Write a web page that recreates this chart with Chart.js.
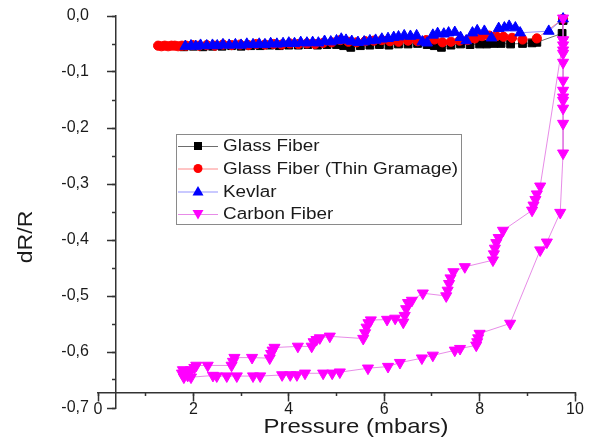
<!DOCTYPE html>
<html><head><meta charset="utf-8">
<script src="https://cdn.jsdelivr.net/npm/chart.js"></script>
<style>html,body{margin:0;padding:0;background:#fff}canvas{display:block}</style>
</head><body>
<canvas id="c" width="594" height="441"></canvas>
<script>
// ---- data ----
const seriesNames = ["Glass Fiber", "Glass Fiber (Thin Gramage)", "Kevlar", "Carbon Fiber"];

const glassX = [1.8, 2.0, 2.2, 2.4, 2.6, 2.8, 3.0, 3.2, 3.4, 3.6, 3.8, 4.0, 4.2, 4.4, 4.6, 4.8, 5.0, 5.15, 5.3, 5.5, 5.7, 5.9, 6.1, 6.3, 6.5, 6.7, 6.9, 7.05, 7.2, 7.4, 7.6, 7.8, 8.0, 8.15, 8.3, 8.45, 8.65, 8.9, 9.1, 9.2, 9.73, 9.75];
const glassY = [-0.055, -0.054, -0.055, -0.054, -0.054, -0.053, -0.054, -0.053, -0.053, -0.052, -0.053, -0.052, -0.052, -0.051, -0.052, -0.051, -0.051, -0.053, -0.056, -0.053, -0.052, -0.051, -0.052, -0.050, -0.050, -0.049, -0.051, -0.053, -0.056, -0.052, -0.050, -0.051, -0.050, -0.050, -0.049, -0.049, -0.050, -0.049, -0.048, -0.047, -0.031, -0.008];

const thinX = [1.26, 1.33, 1.40, 1.47, 1.54, 1.61, 1.68, 1.76, 1.85, 1.98, 2.12, 2.28, 2.45, 2.62, 2.8, 2.98, 3.15, 3.32, 3.5, 3.68, 3.85, 4.02, 4.2, 4.38, 4.55, 4.72, 4.9, 5.08, 5.25, 5.42, 5.6, 5.78, 5.95, 6.12, 6.3, 6.5, 6.7, 6.88, 7.05, 7.22, 7.4, 7.58, 7.75, 7.9, 8.05, 8.2, 8.35, 8.5, 8.68, 8.9, 9.2, 9.75];
const thinY = [-0.053, -0.054, -0.053, -0.054, -0.053, -0.053, -0.054, -0.053, -0.053, -0.052, -0.053, -0.052, -0.053, -0.051, -0.052, -0.051, -0.052, -0.050, -0.051, -0.050, -0.051, -0.049, -0.050, -0.049, -0.050, -0.048, -0.047, -0.043, -0.046, -0.047, -0.045, -0.044, -0.043, -0.045, -0.046, -0.044, -0.045, -0.043, -0.042, -0.047, -0.046, -0.044, -0.043, -0.040, -0.036, -0.035, -0.036, -0.037, -0.039, -0.042, -0.040, -0.005];

const kevlarX = [1.83, 1.95, 2.05, 2.15, 2.28, 2.4, 2.5, 2.62, 2.75, 2.88, 3.0, 3.12, 3.25, 3.38, 3.5, 3.62, 3.75, 3.88, 4.0, 4.12, 4.25, 4.38, 4.5, 4.62, 4.75, 4.88, 5.0, 5.1, 5.2, 5.32, 5.45, 5.58, 5.7, 5.82, 5.95, 6.08, 6.2, 6.3, 6.42, 6.55, 6.68, 6.8, 6.9, 7.02, 7.12, 7.25, 7.35, 7.48, 7.6, 7.72, 7.85, 7.95, 8.1, 8.25, 8.4, 8.52, 8.62, 8.75, 8.85, 9.45, 9.75];
const kevlarY = [-0.054, -0.053, -0.054, -0.052, -0.053, -0.052, -0.053, -0.051, -0.052, -0.051, -0.052, -0.050, -0.051, -0.050, -0.051, -0.049, -0.050, -0.049, -0.048, -0.049, -0.047, -0.048, -0.047, -0.048, -0.045, -0.046, -0.044, -0.041, -0.043, -0.045, -0.047, -0.046, -0.044, -0.043, -0.041, -0.040, -0.038, -0.037, -0.035, -0.036, -0.035, -0.046, -0.048, -0.034, -0.031, -0.032, -0.030, -0.029, -0.038, -0.044, -0.030, -0.026, -0.027, -0.039, -0.022, -0.021, -0.018, -0.021, -0.030, -0.027, -0.005];

const carbonX = [9.75, 9.75, 9.75, 9.75, 9.75, 9.75, 9.75, 9.75, 9.75, 9.75, 9.75, 9.75, 9.75,
  9.69, 9.41, 9.27, 8.64, 8.00, 7.97, 7.95, 7.93, 7.59, 7.48, 7.02, 6.79, 6.33, 6.08, 5.66, 5.07, 4.91, 4.72,
  4.34, 4.17, 4.03, 3.86, 3.40, 3.25, 2.91, 2.70, 2.49, 2.41, 1.95, 1.88, 1.80, 1.76, 1.78, 1.85, 1.95, 2.02,
  2.06, 2.30, 2.80, 2.83, 2.86, 3.23, 3.60, 3.63, 3.66, 3.70, 4.19, 4.48, 4.52, 4.58, 4.65, 4.86, 5.56, 5.60,
  5.63, 5.67, 5.72, 6.06, 6.23, 6.40, 6.43, 6.46, 6.50, 6.58, 6.81, 7.30, 7.33, 7.36, 7.39, 7.45, 7.69, 8.28,
  8.30, 8.32, 8.35, 8.40, 8.49, 9.10, 9.13, 9.17, 9.20, 9.27, 9.75];
const carbonY = [-0.004, -0.043, -0.052, -0.061, -0.067, -0.083, -0.115, -0.133, -0.145, -0.151, -0.165, -0.192, -0.245,
  -0.351, -0.404, -0.418, -0.549, -0.567, -0.575, -0.582, -0.588, -0.594, -0.597, -0.606, -0.611, -0.619, -0.626, -0.629, -0.636, -0.638, -0.638,
  -0.638, -0.641, -0.641, -0.641, -0.643, -0.643, -0.643, -0.643, -0.643, -0.642, -0.645, -0.642, -0.645, -0.638, -0.632, -0.636, -0.632, -0.628,
  -0.624, -0.624, -0.624, -0.617, -0.610, -0.610, -0.611, -0.603, -0.597, -0.592, -0.590, -0.590, -0.582, -0.578, -0.575, -0.572, -0.576, -0.566,
  -0.556, -0.548, -0.543, -0.542, -0.540, -0.547, -0.535, -0.523, -0.512, -0.508, -0.495, -0.500, -0.490, -0.478, -0.468, -0.457, -0.448, -0.436,
  -0.425, -0.415, -0.405, -0.396, -0.383, -0.347, -0.338, -0.328, -0.318, -0.304, -0.043];

const xMajorTicks = [0, 2, 4, 6, 8, 10];
const yMajorTicks = [0, -0.1, -0.2, -0.3, -0.4, -0.5, -0.6, -0.7];
const xTitle = "Pressure (mbars)";
const yTitle = "dR/R";

// ---- chart ----
const FONT = "'Liberation Sans', Arial, sans-serif";
const toPts = (xs, ys) => xs.map((x, i) => ({x: x, y: ys[i]}));

const styles = [
  {color: '#000000', line: 'rgba(60,60,60,0.75)', pointStyle: 'rect', radius: 5.5, rotation: 0},
  {color: '#ff0000', line: 'rgba(255,60,60,0.6)', pointStyle: 'circle', radius: 4.6, rotation: 0},
  {color: '#0000ff', line: 'rgba(60,60,255,0.55)', pointStyle: 'triangle', radius: 6.2, rotation: 0},
  {color: '#ff00ff', line: 'rgba(225,110,225,0.8)', pointStyle: 'triangle', radius: 6.4, rotation: 180}
];
const allData = [toPts(glassX, glassY), toPts(thinX, thinY), toPts(kevlarX, kevlarY), toPts(carbonX, carbonY)];
const orders = [4, 3, 2, 1];

const datasets = seriesNames.map((name, i) => ({
  label: name,
  data: allData[i],
  showLine: true,
  borderColor: styles[i].line,
  borderWidth: 1,
  backgroundColor: styles[i].color,
  pointBackgroundColor: styles[i].color,
  pointBorderColor: styles[i].color,
  pointBorderWidth: 1,
  pointStyle: styles[i].pointStyle,
  pointRadius: styles[i].radius,
  pointRotation: styles[i].rotation,
  pointHoverRadius: styles[i].radius,
  order: orders[i],
  clip: false,
  xAxisID: 'x',
  yAxisID: 'y'
}));

const AXIS_Y_AT = -0.672;   // x axis drawn at this dR/R value
const AXIS_X_AT = 0.367;    // y axis drawn at this pressure value
const YLABEL_X_AT = -0.19;  // right edge of the y tick labels

const fmtY = v => (Math.abs(v) < 1e-9 ? '0,0' : v.toFixed(1).replace('.', ','));

function stretchedText(ctx, text, x, y, sx, rot) {
  ctx.save();
  ctx.translate(x, y);
  if (rot) ctx.rotate(rot);
  ctx.scale(sx, 1);
  ctx.fillText(text, 0, 0);
  ctx.restore();
}

const legendPlugin = {
  id: 'boxLegend',
  afterDraw(chart) {
    const ctx = chart.ctx;
    ctx.save();
    const bx = 176.5, by = 134.5, bw = 285, bh = 90;
    ctx.strokeStyle = '#8a8a8a';
    ctx.lineWidth = 1;
    ctx.strokeRect(bx, by, bw, bh);
    const rowY = [146, 168.5, 191.5, 214];
    ctx.font = '16px ' + FONT;
    ctx.textBaseline = 'middle';
    ctx.textAlign = 'left';
    seriesNames.forEach((name, i) => {
      const y = rowY[i];
      const st = styles[i];
      ctx.strokeStyle = st.line;
      ctx.lineWidth = 1;
      ctx.beginPath(); ctx.moveTo(178, y + 0.5); ctx.lineTo(218, y + 0.5); ctx.stroke();
      ctx.fillStyle = st.color;
      const cx = 198;
      ctx.beginPath();
      if (st.pointStyle === 'rect') {
        ctx.rect(cx - 4, y - 4, 8, 8);
      } else if (st.pointStyle === 'circle') {
        ctx.arc(cx, y, 4.5, 0, Math.PI * 2);
      } else if (st.rotation === 0) {
        ctx.moveTo(cx, y - 5.5); ctx.lineTo(cx + 5.5, y + 4); ctx.lineTo(cx - 5.5, y + 4); ctx.closePath();
      } else {
        ctx.moveTo(cx, y + 5.5); ctx.lineTo(cx + 5.5, y - 4); ctx.lineTo(cx - 5.5, y - 4); ctx.closePath();
      }
      ctx.fill();
      ctx.fillStyle = '#1a1a1a';
      stretchedText(ctx, name, 223, y + 1, 1.18, 0);
    });
    // axis titles
    ctx.fillStyle = '#1a1a1a';
    ctx.font = '21px ' + FONT;
    ctx.textAlign = 'center';
    ctx.textBaseline = 'middle';
    stretchedText(ctx, xTitle, 356, 427, 1.14, 0);
    stretchedText(ctx, yTitle, 26, 237, 1.1, -Math.PI / 2);
    ctx.restore();
  }
};

Chart.defaults.font.family = FONT;
Chart.defaults.font.size = 16;
Chart.defaults.color = '#1a1a1a';

const tickGrid = len => ({drawOnChartArea: false, drawTicks: true, tickLength: len, tickWidth: 1.5, tickColor: '#333'});

new Chart(document.getElementById('c'), {
  type: 'scatter',
  data: {datasets: datasets},
  options: {
    responsive: false,
    animation: false,
    events: [],
    layout: {padding: {left: 98, right: 19, top: 16, bottom: 33}},
    plugins: {legend: {display: false}, tooltip: {enabled: false}, title: {display: false}},
    scales: {
      x: {
        type: 'linear', min: 0, max: 10,
        position: {y: AXIS_Y_AT},
        afterBuildTicks: s => { s.ticks = xMajorTicks.map(v => ({value: v})); },
        ticks: {padding: 0, font: {size: 16}, callback: v => String(v)},
        grid: tickGrid(8),
        border: {display: true, color: '#333', width: 1.5}
      },
      x2: {
        type: 'linear', min: 0, max: 10, axis: 'x',
        position: {y: AXIS_Y_AT},
        ticks: {display: false, stepSize: 1},
        grid: tickGrid(4),
        border: {display: false}
      },
      y: {
        type: 'linear', min: -0.7, max: 0,
        position: {x: AXIS_X_AT},
        afterBuildTicks: s => { s.ticks = yMajorTicks.map(v => ({value: v})); },
        ticks: {display: false, padding: 0},
        grid: tickGrid(8),
        border: {display: true, color: '#333', width: 1.5}
      },
      y2: {
        type: 'linear', min: -0.7, max: 0, axis: 'y',
        position: {x: AXIS_X_AT},
        ticks: {display: false, stepSize: 0.05},
        grid: tickGrid(4),
        border: {display: false}
      },
      yLabels: {
        type: 'linear', min: -0.7, max: 0, axis: 'y',
        position: {x: YLABEL_X_AT},
        afterBuildTicks: s => { s.ticks = yMajorTicks.map(v => ({value: v})); },
        ticks: {padding: 0, font: {size: 16}, callback: v => fmtY(v)},
        grid: {display: false, drawTicks: false},
        border: {display: false}
      }
    }
  },
  plugins: [legendPlugin]
});
</script>
</body></html>
